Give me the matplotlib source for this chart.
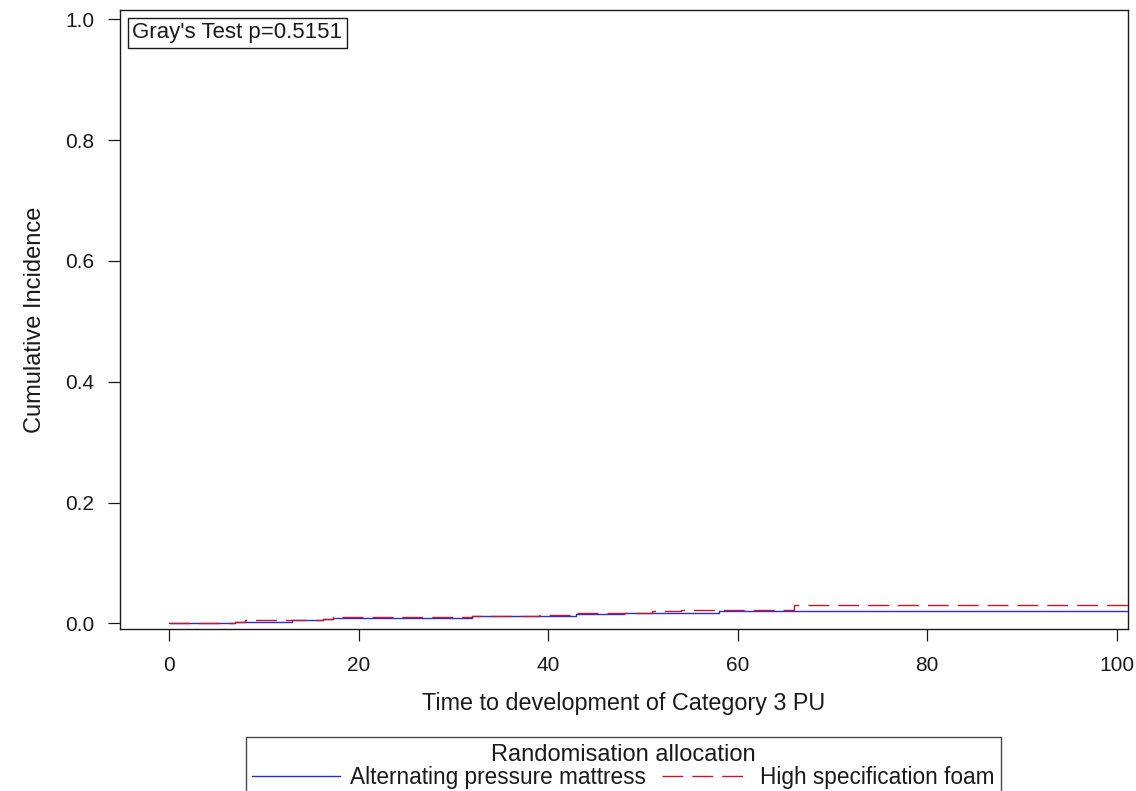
import matplotlib
matplotlib.use("Agg")
import matplotlib.pyplot as plt

# Cumulative incidence of Category 3 PU by randomisation arm (step estimates)
apm_time = [0, 7, 13, 16.3, 17.3, 32, 43, 48, 58, 102]
apm_cif = [0, 0.0017, 0.005, 0.0075, 0.0095, 0.012, 0.0155, 0.018, 0.0207, 0.0207]

hsf_time = [0, 7, 8, 16.3, 17.3, 32, 39, 43, 51, 54, 66, 102]
hsf_cif = [0, 0.0017, 0.005, 0.0075, 0.011, 0.012, 0.0145, 0.0175, 0.021, 0.0227, 0.0298, 0.0298]

x_ticks = [0, 20, 40, 60, 80, 100]
y_ticks = [0.0, 0.2, 0.4, 0.6, 0.8, 1.0]
gray_p = 0.5151

FONT = ["Liberation Sans", "DejaVu Sans"]
INK = "#1a1a1a"

fig = plt.figure(figsize=(11.36, 7.91), dpi=100)
ax = fig.add_axes([120 / 1136, 1 - 629 / 791, 1008 / 1136, 619 / 791])

ax.plot(apm_time, apm_cif, drawstyle="steps-post", color="#2b2bdf", lw=1.0,
        label="Alternating pressure mattress")
ax.plot(hsf_time, hsf_cif, drawstyle="steps-post", color="#c4162a", lw=1.0,
        linestyle=(0, (15, 6.5)), label="High specification foam")

ax.set_xlim(-5.17, 101.2)
ax.set_ylim(-0.0093, 1.0154)
ax.set_xticks(x_ticks)
ax.set_xticklabels([f"{v:d}" for v in x_ticks])
ax.set_yticks(y_ticks)
ax.set_yticklabels([f"{v:.1f}" for v in y_ticks])

for spine in ax.spines.values():
    spine.set_linewidth(1.0)
    spine.set_color(INK)
ax.tick_params(axis="both", direction="out", length=8.5, width=0.9, color=INK,
               labelcolor=INK)
ax.tick_params(axis="x", pad=11)
ax.tick_params(axis="y", pad=10)
for lab in ax.get_xticklabels() + ax.get_yticklabels():
    lab.set_family(FONT)
    lab.set_fontsize(15)

ax.set_xlabel("Time to development of Category 3 PU", family=FONT,
              fontsize=16.8, color=INK, labelpad=12)
ax.set_ylabel("Cumulative Incidence", family=FONT, fontsize=17,
              color=INK, labelpad=13.5)

ax.text(0.0124, 0.98, f"Gray's Test p={gray_p:.4f}", transform=ax.transAxes,
        ha="left", va="top", family=FONT, fontsize=16, color=INK,
        bbox=dict(boxstyle="square,pad=0.2", fc="white", ec=INK, lw=1.0))

# legend hangs off the bottom edge, frame bottom is cut by the canvas
leg = fig.legend(loc="upper center", bbox_to_anchor=(623.5 / 1136, 1 - 737 / 791),
                 ncol=2, title="Randomisation allocation", frameon=True,
                 fancybox=False, borderaxespad=0, borderpad=0.3,
                 labelspacing=0.0, handlelength=3.89, handletextpad=0.44,
                 columnspacing=0.7,
                 prop={"family": FONT, "size": 16.3},
                 title_fontproperties={"family": FONT, "size": 17})
leg.get_frame().set_edgecolor(INK)
leg.get_frame().set_linewidth(1.0)
for t in leg.get_texts():
    t.set_color(INK)
leg.get_title().set_color(INK)

fig.savefig("out.png", dpi=100)
